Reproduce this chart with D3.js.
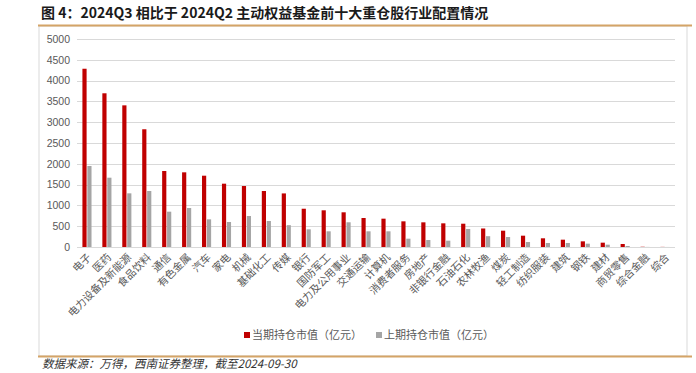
<!DOCTYPE html>
<html>
<head>
<meta charset="utf-8">
<script src="https://cdn.jsdelivr.net/npm/d3@7/dist/d3.min.js"></script>
<style>
body { margin: 0; background: #fff; }
svg { display: block; }
.tick text { fill: #595959; }
</style>
</head>
<body>
<script>
var categories = ['电子', '医药', '电力设备及新能源', '食品饮料', '通信', '有色金属', '汽车', '家电', '机械', '基础化工',
	'传媒', '银行', '国防军工', '电力及公用事业', '交通运输', '计算机', '消费者服务', '房地产', '非银行金融', '石油石化',
	'农林牧渔', '煤炭', '轻工制造', '纺织服装', '建筑', '钢铁', '建材', '商贸零售', '综合金融', '综合'];
var current = [4285, 3695, 3405, 2830, 1827, 1795, 1714, 1522, 1466, 1346,
	1288, 920, 882, 834, 697, 681, 617, 593, 569, 560,
	445, 392, 272, 209, 176, 136, 104, 72, 6, 3];
var previous = [1947, 1666, 1290, 1346, 849, 937, 665, 601, 745, 625,
	525, 425, 377, 594, 377, 377, 200, 168, 152, 433,
	260, 240, 120, 96, 96, 80, 56, 24, 2, 1];
var seriesNames = ['当期持仓市值（亿元）', '上期持仓市值（亿元）'];
var colors = ['#c00000', '#a5a5a5'];
var yTicks = [0, 500, 1000, 1500, 2000, 2500, 3000, 3500, 4000, 4500, 5000];

var width = 696, height = 373;
var svg = d3.select('body').append('svg')
	.attr('width', width)
	.attr('height', height);

// title and rules
svg.append('text')
	.attr('x', 41).attr('y', 18)
	.attr('font-family', 'Noto Sans CJK SC')
	.attr('font-weight', 'bold')
	.attr('font-size', 14)
	.attr('fill', '#1a1a1a')
	.text('图 4：2024Q3 相比于 2024Q2 主动权益基金前十大重仓股行业配置情况');

svg.append('rect')
	.attr('x', 39).attr('y', 26).attr('width', 648).attr('height', 330)
	.attr('fill', 'none').attr('stroke', '#d9d9d9');

svg.append('line')
	.attr('x1', 38).attr('x2', 692).attr('y1', 25.5).attr('y2', 25.5)
	.attr('stroke', '#d4a467').attr('stroke-width', 2);
svg.append('line')
	.attr('x1', 38).attr('x2', 692).attr('y1', 356.5).attr('y2', 356.5)
	.attr('stroke', '#d4a467').attr('stroke-width', 2);

svg.append('text')
	.attr('x', 42).attr('y', 368)
	.attr('font-family', 'Noto Sans CJK SC')
	.attr('font-style', 'italic')
	.attr('font-size', 11.5)
	.attr('fill', '#333')
	.text('数据来源：万得，西南证券整理，截至2024-09-30');

var x = d3.scaleBand()
	.domain(categories)
	.range([77, 675]);

var xInner = d3.scaleBand()
	.domain([0, 1])
	.range([0, x.bandwidth()])
	.paddingInner(0.15)
	.paddingOuter(1.1);

var y = d3.scaleLinear()
	.domain([0, 5000])
	.range([247, 39]);

// gridlines
svg.append('g')
	.selectAll('line')
	.data(yTicks)
	.enter()
	.append('line')
	.attr('x1', 77).attr('x2', 675)
	.attr('y1', function(d) { return Math.round(y(d)) + 0.5; })
	.attr('y2', function(d) { return Math.round(y(d)) + 0.5; })
	.attr('stroke', '#d9d9d9')
	.attr('stroke-width', 1);

var yAxis = svg.append('g')
	.attr('transform', 'translate(77,0)')
	.call(d3.axisLeft(y).tickValues(yTicks).tickFormat(d3.format('d')).tickSize(0).tickPadding(7));
yAxis.select('.domain').remove();
yAxis.selectAll('text')
	.attr('font-family', 'Liberation Sans, Arial')
	.attr('font-size', 10.5);

// bars
var groups = svg.append('g')
	.selectAll('g')
	.data(categories)
	.enter()
	.append('g')
	.attr('transform', function(d) { return 'translate(' + x(d) + ',0)'; });

groups.selectAll('rect')
	.data(function(d, i) { return [current[i], previous[i]]; })
	.enter()
	.append('rect')
	.attr('x', function(d, j) { return xInner(j); })
	.attr('width', xInner.bandwidth())
	.attr('y', function(d) { return y(d); })
	.attr('height', function(d) { return y(0) - y(d); })
	.attr('fill', function(d, j) { return colors[j]; });

// category labels
var xAxis = svg.append('g')
	.attr('transform', 'translate(0,247)')
	.call(d3.axisBottom(x).tickSize(0).tickPadding(0));
xAxis.select('.domain').remove();
xAxis.selectAll('text')
	.attr('font-family', 'Noto Sans CJK SC')
	.attr('font-size', 10.5)
	.attr('text-anchor', 'end')
	.attr('dy', 0)
	.attr('transform', 'translate(5,11) rotate(-45)');

// legend
var legendX = [244, 376];
var legend = svg.append('g')
	.selectAll('g')
	.data(seriesNames)
	.enter()
	.append('g')
	.attr('transform', function(d, i) { return 'translate(' + legendX[i] + ',338)'; });
legend.append('rect')
	.attr('x', 0).attr('y', -6)
	.attr('width', 6).attr('height', 6)
	.attr('fill', function(d, i) { return colors[i]; });
legend.append('text')
	.attr('x', 8).attr('y', 0)
	.attr('dy', '0.05em')
	.attr('font-family', 'Noto Sans CJK SC')
	.attr('font-size', 11)
	.attr('fill', '#595959')
	.text(function(d) { return d; });
</script>
</body>
</html>
